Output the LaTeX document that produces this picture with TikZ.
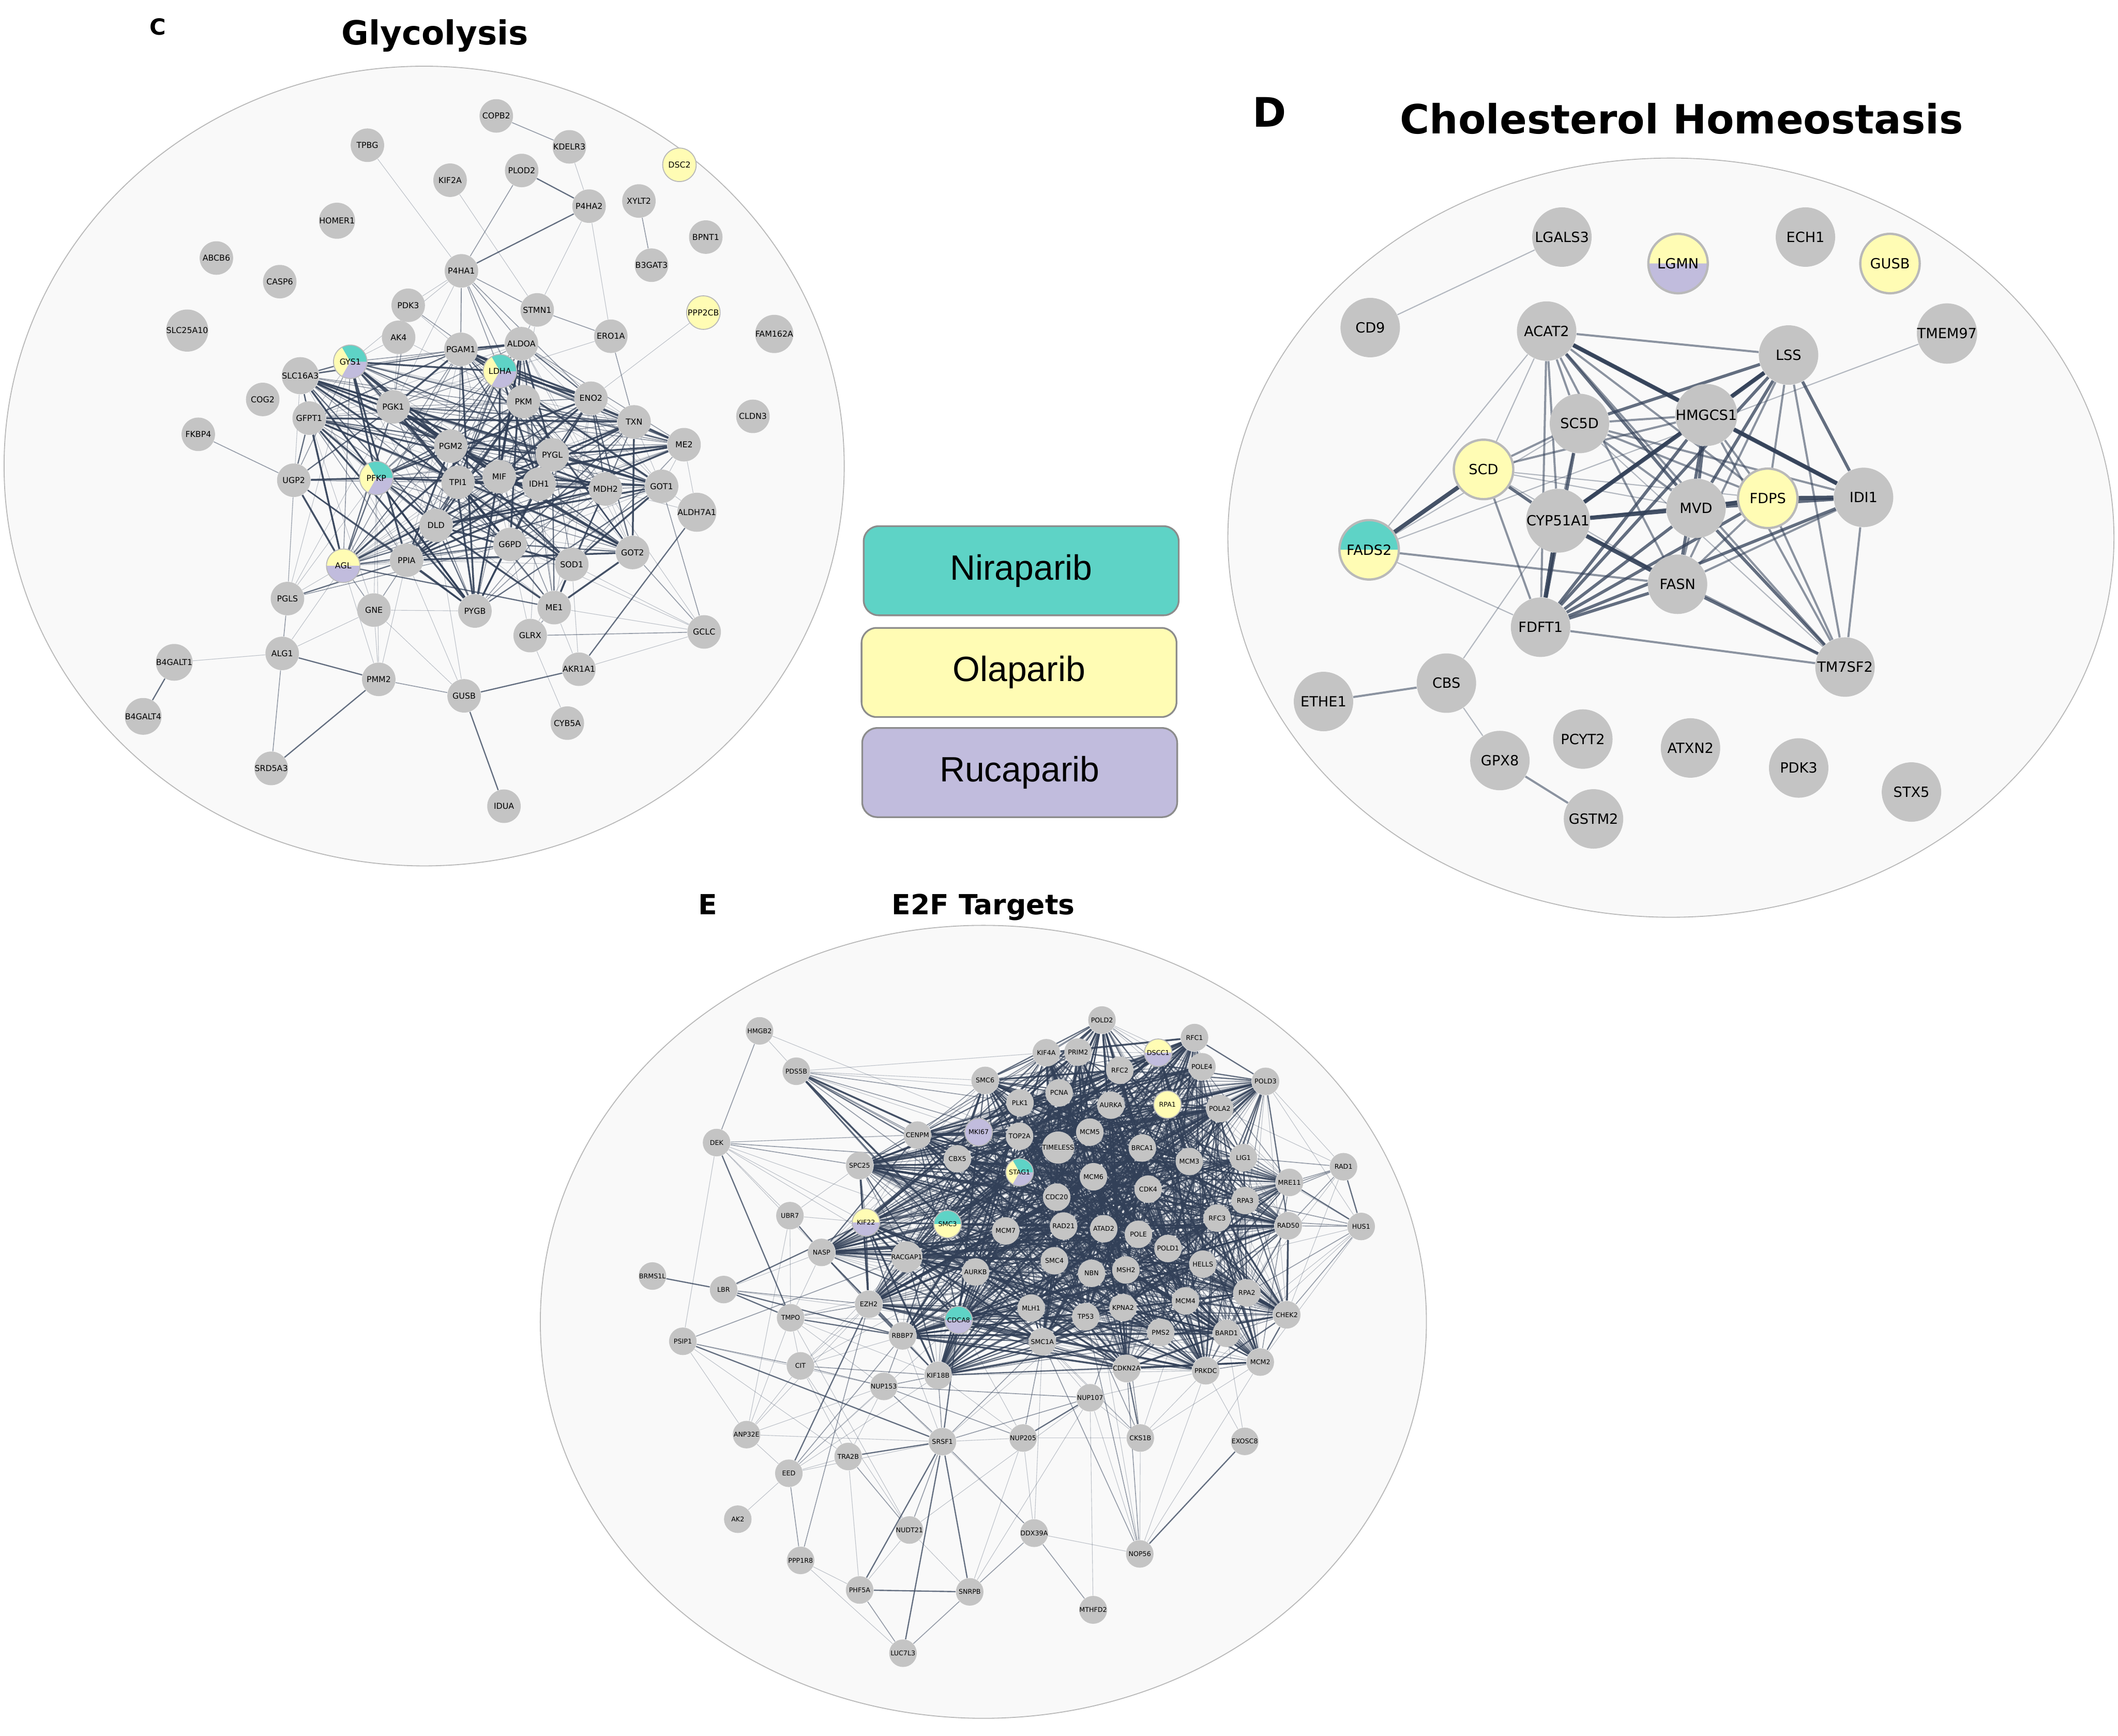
\documentclass[tikz,border=0pt]{standalone}
\usepackage{fontspec}
\setmainfont{DejaVu Sans}
\newfontfamily\keyfont{Liberation Sans}
\usepackage{tikz}
\definecolor{nira}{RGB}{94,211,198}
\definecolor{olap}{RGB}{255,252,180}
\definecolor{ruca}{RGB}{193,188,221}
\definecolor{gnode}{RGB}{196,196,196}
\definecolor{edgec}{RGB}{50,64,88}
\definecolor{ring}{RGB}{185,185,185}
\definecolor{panelbg}{RGB}{249,249,249}
\definecolor{keyedge}{RGB}{140,140,140}
\pgfdeclarelayer{bg}
\pgfdeclarelayer{edges}
\pgfsetlayers{bg,edges,main}
% one slice of a pie node
\newcommand{\piecut}[3]{\fill[#1] (path picture bounding box.center) -- ++(#2:1cm) arc[start angle=#2,end angle=#3,radius=1cm] -- cycle;}
% pick a weight for a link of the dense core
\newcommand{\hashlink}[3]{\ifcase#1\or\or\or\or\draw[ea] (#2)--(#3);\or\draw[ea] (#2)--(#3);\or\draw[eb] (#2)--(#3);\or\draw[eb] (#2)--(#3);\or\draw[ec] (#2)--(#3);\or\draw[ec] (#2)--(#3);\else\draw[ed] (#2)--(#3);\fi}
\def\ccore{GYS1,SLC16A3,PGK1,PGAM1,LDHA,ALDOA,PKM,ENO2,TXN,ME2,PGM2,PFKP,TPI1,MIF,IDH1,PYGL,MDH2,GOT1,DLD,G6PD,GOT2,SOD1,AGL,PPIA,PYGB,ME1,GFPT1}
\def\ecore{SMC6,KIF4A,PRIM2,POLD2,RFC2,DSCC1,RFC1,POLE4,POLD3,PCNA,PLK1,AURKA,RPA1,POLA2,CENPM,MKI67,TOP2A,MCM5,TIMELESS,BRCA1,MCM3,LIG1,SPC25,CBX5,STAG1,MCM6,CDK4,CDC20,MRE11,RPA3,RFC3,RAD50,KIF22,SMC3,MCM7,RAD21,ATAD2,POLE,POLD1,HELLS,NASP,RACGAP1,AURKB,SMC4,NBN,MSH2,RPA2,EZH2,CDCA8,MLH1,TP53,KPNA2,MCM4,BARD1,PMS2,RBBP7,SMC1A,CDKN2A,MCM2,PRKDC,CHEK2,KIF18B}

\begin{document}
\begin{tikzpicture}[x=0.25mm,y=-0.25mm,
  cn/.style={circle,fill=gnode,inner sep=0pt,minimum size=6.2mm,font=\fontsize{4.3}{5}\selectfont},
  dn/.style={circle,fill=gnode,inner sep=0pt,minimum size=11mm,font=\fontsize{7.4}{9}\selectfont},
  en/.style={circle,fill=gnode,inner sep=0pt,minimum size=5.1mm,font=\fontsize{3.45}{4}\selectfont},
  tri/.style={draw=ring,line width=0.5pt,path picture={\piecut{nira}{0}{120}\piecut{olap}{120}{240}\piecut{ruca}{240}{360}}},
  yp/.style={draw=ring,line width=0.5pt,path picture={\piecut{olap}{0}{180}\piecut{ruca}{180}{360}}},
  ty/.style={draw=ring,line width=0.5pt,path picture={\piecut{nira}{0}{180}\piecut{olap}{180}{360}}},
  tp/.style={draw=ring,line width=0.5pt,path picture={\piecut{nira}{0}{180}\piecut{ruca}{180}{360}}},
  oo/.style={draw=ring,line width=0.5pt,fill=olap},
  rr/.style={draw=ring,line width=0.5pt,fill=ruca},
  ea/.style={draw=edgec,draw opacity=.3,line width=.3pt},
  eb/.style={draw=edgec,draw opacity=.5,line width=.45pt},
  ec/.style={draw=edgec,draw opacity=.75,line width=.65pt},
  ed/.style={draw=edgec,draw opacity=.9,line width=.95pt},
  da/.style={draw=edgec,draw opacity=.35,line width=.6pt},
  db/.style={draw=edgec,draw opacity=.55,line width=1.1pt},
  dc/.style={draw=edgec,draw opacity=.75,line width=1.6pt},
  dd/.style={draw=edgec,draw opacity=.9,line width=2.2pt},
  panel/.style={fill=panelbg,draw=ring,line width=.5pt},
  ttl/.style={font=\bfseries\fontsize{#1}{#1}\selectfont,inner sep=0pt,anchor=base},
  keybox/.style={rounded corners=2.8mm,draw=keyedge,line width=.9pt,minimum width=58.3mm,minimum height=16.5mm,font=\keyfont\fontsize{18.5}{20}\selectfont}]

\begin{pgfonlayer}{bg}
\fill[white] (0,0) rectangle (1568,1285);
\draw[panel] (314,345) ellipse [x radius=311,y radius=296];
\draw[panel] (1237,398) ellipse [x radius=328,y radius=281];
\draw[panel] (728,978.5) ellipse [x radius=328,y radius=293.5];
\end{pgfonlayer}
\useasboundingbox (0,0) rectangle (1568,1285);

% titles
\node[ttl=11.7] (lblC) at (117,26) {C};
\node[ttl=17.5] (ttlC) at (322,33) {Glycolysis};
\node[ttl=21.4] (lblD) at (940,94) {D};
\node[ttl=21.2] (ttlD) at (1245,99) {Cholesterol Homeostasis};
\node[ttl=14.6] (lblE) at (524,677) {E};
\node[ttl=14.6] (ttlE) at (728,677) {E2F Targets};

% legend
\foreach \n/\c/\x/\y in {Niraparib/nira/756/422.5,Olaparib/olap/754.4/497.8,Rucaparib/ruca/754.9/571.9}
  \node[keybox,fill=\c] (key\n) at (\x,\y) {\n};

% C: glycolysis
\foreach \n/\x/\y in {TPBG/272/107.5,KIF2A/333.2/133.4,HOMER1/249.5/163.4,ABCB6/160.2/191,P4HA1/341.6/200.5,CASP6/207.1/208.5,PDK3/302.2/226,SLC25A10/138.6/244.7,AK4/295.1/249.7,PGAM1/341.2/258.6,SLC16A3/222.3/278.1,COG2/194.5/295.7,PGK1/291.1/301.2,GFPT1/228.9/309.5,COPB2/367.4/85.8,KDELR3/421.5/108.7,PLOD2/386.2/126.2,P4HA2/436.1/152.6,XYLT2/473/148.8,BPNT1/522.5/175.5,B3GAT3/482.3/196.3,STMN1/397.7/229.4,FAM162A/573.2/247.2,ERO1A/452.2/248.9,ALDOA/386/254.4,PKM/387.5/297.3,ENO2/437.5/294.8,TXN/469.4/312.3,CLDN3/557.4/308.2,FKBP4/146.8/321.5,PGM2/333.7/330.2,UGP2/217.5/355.5,TPI1/339.1/357,DLD/322.8/389,PPIA/301/414.7,PGLS/212.8/443.1,GNE/276.8/451.6,PYGB/351.6/452.3,ALG1/208.9/483.7,B4GALT1/129/490.3,PMM2/280.4/502.9,GUSB/343.6/515.1,B4GALT4/106/530.3,SRD5A3/200.8/568.8,ME2/506.4/329.2,PYGL/408.9/336.7,MIF/369.6/352.9,IDH1/399.1/358.4,MDH2/448.3/362,GOT1/489.8/360,ALDH7A1/515.9/379.2,G6PD/377.6/403,GOT2/468.3/409,SOD1/423.3/417.8,ME1/410.3/449.8,GCLC/521.3/467.8,GLRX/392.5/470.5,AKR1A1/428.6/495.4,CYB5A/420/535.3,IDUA/373.1/596.8}
  \node[cn] (c\n) at (\x,\y) {\n};
\node[cn,tri] (cGYS1) at (259.3,267.8) {GYS1};
\node[cn,tri] (cLDHA) at (370.1,274.8) {LDHA};
\node[cn,tri] (cPFKP) at (278.6,353.9) {PFKP};
\node[cn,yp] (cAGL) at (254.1,418.8) {AGL};
\node[cn,oo] (cDSC2) at (503,122) {DSC2};
\node[cn,oo] (cPPP2CB) at (520.7,231.4) {PPP2CB};

% D: cholesterol homeostasis
\foreach \n/\x/\y in {LGALS3/1156.3/175.5,ECH1/1336.6/175.5,CD9/1014.4/242.5,ACAT2/1145/245.1,TMEM97/1441.4/246.9,LSS/1324.1/262.8,HMGCS1/1263.2/307.2,SC5D/1169.3/313.5,IDI1/1379.6/368.2,MVD/1255.6/376.3,CYP51A1/1153.4/385.5,FASN/1241.9/432.5,FDFT1/1140.5/464.3,TM7SF2/1365.9/493.8,CBS/1070.8/505.7,ETHE1/979.8/519.3,PCYT2/1171.8/547.1,ATXN2/1251.5/553.7,GPX8/1110.4/563,PDK3/1331.6/568.5,STX5/1415.1/586.3,GSTM2/1179.7/606.2}
  \node[dn] (d\n) at (\x,\y) {\n};
\node[dn,yp,line width=1.2pt] (dLGMN) at (1242.3,195.1) {LGMN};
\node[dn,oo,line width=1.2pt] (dGUSB) at (1399.2,195.1) {GUSB};
\node[dn,oo,line width=1.2pt] (dSCD) at (1098.3,347.5) {SCD};
\node[dn,oo,line width=1.2pt] (dFDPS) at (1308.7,368.9) {FDPS};
\node[dn,ty,line width=1.2pt] (dFADS2) at (1013.6,407) {FADS2};

% E: E2F targets
\foreach \n/\x/\y in {HMGB2/562.3/763.1,PDS5B/589.5/793,DEK/530.5/845.8,CENPM/679.2/840.3,SPC25/636.4/862.8,UBR7/584.8/899.9,NASP/608.2/927.1,RACGAP1/671.3/930.4,BRMS1L/483/944.6,LBR/535.7/954.6,EZH2/643.1/965.5,TMPO/585.3/975.5,RBBP7/668.2/988.9,POLD2/815.8/755.1,RFC1/884.3/768.1,KIF4A/774.6/779.3,PRIM2/798.1/778.8,RFC2/829/792.3,POLE4/889.8/789.7,SMC6/729.3/799.8,PCNA/784.1/809,PLK1/755.1/816.4,AURKA/822.4/818.1,POLA2/903/820.6,TOP2A/754.8/841.1,MCM5/806.8/838.1,TIMELESS/783.4/849.5,BRCA1/845.7/849.8,CBX5/708.8/857.8,MCM3/880.5/859.8,MCM6/809.5/871.1,CDK4/850/880.3,CDC20/782.3/886.2,RFC3/901.1/901.7,MCM7/744.5/911.2,RAD21/787.4/907.6,ATAD2/817.1/909.6,POLE/842.8/913.7,POLD1/864.7/924.2,SMC4/780.6/933.3,HELLS/890.5/935.8,AURKB/722.2/941.6,NBN/808.1/942.6,MSH2/833.5/940.1,MCM4/877.6/963,MLH1/763.4/968.3,KPNA2/831.4/968,TP53/803.8/974.7,PMS2/859.3/986.4,BARD1/908/987,POLD3/936.9/800.5,LIG1/920.5/857,RAD1/994.6/863.7,MRE11/954.6/875.3,RPA3/921.8/888.7,RAD50/953.7/907.4,HUS1/1007.7/907.9,RPA2/923.1/957.1,CHEK2/952.6/973.3,MCM2/933/1008.3,EXOSC8/921.5/1067,PSIP1/505.5/992.9,CIT/592.6/1011.1,KIF18B/694.5/1018.1,NUP153/654.3/1026.3,ANP32E/552.7/1062,SRSF1/697.7/1067.2,TRA2B/627.9/1078.2,EED/584/1090.6,AK2/546.2/1124.6,NUDT21/673.3/1132.6,PPP1R8/592.7/1155.1,PHF5A/636.4/1177,LUC7L3/668.5/1223.8,SMC1A/771.7/993.3,CDKN2A/834.1/1013,PRKDC/892.6/1014.7,NUP107/807/1034.7,NUP205/757.4/1064.5,CKS1B/844.2/1064.5,DDX39A/765.6/1134.9,NOP56/843.8/1150.3,SNRPB/717.9/1178.4,MTHFD2/809.3/1191.7}
  \node[en] (e\n) at (\x,\y) {\n};
\node[en,yp] (eDSCC1) at (857.4,779.3) {DSCC1};
\node[en,rr] (eMKI67) at (724.5,838.1) {MKI67};
\node[en,oo] (eRPA1) at (864.3,817.7) {RPA1};
\node[en,tri] (eSTAG1) at (754.8,867.8) {STAG1};
\node[en,yp] (eKIF22) at (641.1,904.9) {KIF22};
\node[en,ty] (eSMC3) at (701.5,906.2) {SMC3};
\node[en,tp] (eCDCA8) at (709.7,977.2) {CDCA8};

\begin{pgfonlayer}{edges}
\pgfmathsetseed{4}
% C links
\foreach \a [count=\i] in \ccore {\foreach \b [count=\j] in \ccore {\ifnum\j>\i
  \pgfmathtruncatemacro\k{min(int(rnd*11)+1,10)}\hashlink{\k}{c\a}{c\b}\fi}}
\foreach \a/\b/\s in {TPBG/P4HA1/ea,KIF2A/STMN1/ea,COPB2/KDELR3/eb,PLOD2/P4HA2/ec,PLOD2/P4HA1/eb,P4HA2/P4HA1/ec,KDELR3/P4HA2/ea,P4HA2/STMN1/ea,P4HA2/ERO1A/ea,XYLT2/B3GAT3/eb,STMN1/ERO1A/eb,ERO1A/TXN/eb,ERO1A/LDHA/ea,PPP2CB/ENO2/ea,P4HA1/PDK3/ea,P4HA1/PGAM1/eb,P4HA1/LDHA/eb,P4HA1/PKM/eb,P4HA1/ENO2/eb,P4HA1/STMN1/eb,P4HA1/GYS1/ea,P4HA1/PGK1/ea,P4HA1/ALDOA/eb,P4HA1/TPI1/ea,PDK3/AK4/ea,PDK3/LDHA/eb,PDK3/PKM/ea,PDK3/PGK1/eb,AK4/GYS1/ea,AK4/PGK1/ea,AK4/PKM/ea,STMN1/ALDOA/ea,STMN1/PKM/ea,STMN1/TPI1/ea,FKBP4/UGP2/eb,UGP2/PFKP/ed,UGP2/GYS1/eb,UGP2/PGLS/ea,UGP2/AGL/ed,UGP2/PPIA/ec,UGP2/PGK1/ec,UGP2/PYGB/ec,UGP2/TPI1/eb,GFPT1/UGP2/ec,GFPT1/GNE/ea,ALG1/PGLS/eb,ALG1/B4GALT1/ea,ALG1/PMM2/ec,ALG1/SRD5A3/eb,ALG1/GNE/ea,ALG1/AGL/ea,B4GALT1/B4GALT4/ec,PMM2/SRD5A3/ec,PMM2/GUSB/eb,PMM2/GNE/ea,PMM2/AGL/ea,PMM2/PPIA/ea,PMM2/PFKP/ea,GUSB/IDUA/ec,GUSB/AKR1A1/ec,GUSB/GNE/ea,GUSB/PPIA/ea,GUSB/DLD/ea,PGLS/AGL/ea,PGLS/PFKP/ea,PGLS/PPIA/ec,PGLS/G6PD/eb,PGLS/PGK1/ea,PGLS/GYS1/ea,PGLS/SLC16A3/ea,GNE/PYGB/ea,GNE/PFKP/ea,GNE/AGL/eb,GNE/PPIA/eb,GLRX/GCLC/eb,GLRX/CYB5A/ea,GLRX/ME1/eb,GLRX/G6PD/ea,GLRX/SOD1/ea,GLRX/IDH1/ea,AKR1A1/ALDH7A1/ec,AKR1A1/GCLC/ea,AKR1A1/ME1/ea,AKR1A1/SOD1/ea,GCLC/GOT2/eb,GCLC/GOT1/eb,GCLC/ME1/ea,GCLC/SOD1/ea,GCLC/G6PD/ea,GCLC/MDH2/ea,ALDH7A1/MDH2/ea,ALDH7A1/ME2/ea,ALDH7A1/GOT1/ea}
  \draw[\s] (c\a) -- (c\b);
% D links
\foreach \a/\b/\s in {LGALS3/CD9/da,CBS/ETHE1/db,CBS/GPX8/da,GPX8/GSTM2/db,CBS/CYP51A1/da,TMEM97/FADS2/da,ACAT2/LSS/db,ACAT2/FADS2/da,ACAT2/SCD/da,ACAT2/SC5D/db,ACAT2/CYP51A1/db,ACAT2/FDFT1/db,ACAT2/HMGCS1/dd,ACAT2/MVD/dc,ACAT2/FDPS/db,ACAT2/FASN/db,ACAT2/IDI1/dc,ACAT2/TM7SF2/db,LSS/SC5D/dc,LSS/HMGCS1/dd,LSS/CYP51A1/dc,LSS/MVD/dc,LSS/FDPS/db,LSS/IDI1/dc,LSS/FDFT1/dc,LSS/TM7SF2/db,LSS/FASN/db,HMGCS1/SC5D/db,HMGCS1/MVD/dc,HMGCS1/FDPS/db,HMGCS1/IDI1/dd,HMGCS1/FDFT1/dc,HMGCS1/CYP51A1/dd,HMGCS1/TM7SF2/db,HMGCS1/FASN/dc,HMGCS1/SCD/db,SCD/FADS2/dd,SCD/SC5D/db,SCD/CYP51A1/dc,SCD/FDFT1/db,SCD/FASN/da,SCD/MVD/da,SCD/FDPS/da,FADS2/FASN/db,FADS2/FDFT1/da,FADS2/SC5D/da,MVD/FDPS/dd,MVD/IDI1/dc,MVD/CYP51A1/dd,MVD/FDFT1/dc,MVD/TM7SF2/dc,MVD/FASN/db,FDPS/IDI1/dd,FDPS/FDFT1/dc,FDPS/TM7SF2/db,FDPS/CYP51A1/db,FDPS/FASN/db,IDI1/TM7SF2/db,IDI1/FDFT1/dc,IDI1/FASN/db,CYP51A1/FDFT1/dd,CYP51A1/FASN/dd,CYP51A1/TM7SF2/db,CYP51A1/SC5D/db,FDFT1/TM7SF2/db,FDFT1/FASN/dc,FASN/TM7SF2/dc,SC5D/FDFT1/dc,SC5D/MVD/db,SC5D/FDPS/db,SC5D/IDI1/db,SC5D/TM7SF2/da}
  \draw[\s] (d\a) -- (d\b);
% E links
\foreach \a [count=\i] in \ecore {\foreach \b [count=\j] in \ecore {\ifnum\j>\i
  \pgfmathtruncatemacro\k{int(rnd*11)}\hashlink{\k}{e\a}{e\b}\fi}}
\foreach \a/\b/\s in {HMGB2/DEK/eb,HMGB2/PDS5B/ea,HMGB2/TOP2A/ea,PDS5B/CENPM/eb,PDS5B/SMC3/ed,PDS5B/STAG1/ed,PDS5B/RAD21/ec,PDS5B/SMC1A/ec,PDS5B/CBX5/eb,PDS5B/TOP2A/eb,PDS5B/SMC6/ea,PDS5B/PLK1/eb,PDS5B/MKI67/ea,PDS5B/SMC4/eb,PDS5B/AURKB/eb,PDS5B/KIF4A/ea,PDS5B/PCNA/ea,DEK/CENPM/ea,DEK/SPC25/eb,DEK/NASP/ea,DEK/UBR7/ea,DEK/TMPO/ec,DEK/PSIP1/ea,DEK/KIF22/ea,DEK/RACGAP1/ea,DEK/SMC3/ea,DEK/CBX5/eb,DEK/MKI67/ea,UBR7/NASP/ec,UBR7/TMPO/ea,UBR7/KIF22/ea,UBR7/SPC25/ea,UBR7/ANP32E/ea,BRMS1L/LBR/ec,LBR/KIF22/ec,LBR/TMPO/ec,LBR/EZH2/eb,LBR/RBBP7/ec,LBR/CDCA8/ea,LBR/NASP/ea,PSIP1/RACGAP1/eb,PSIP1/CIT/eb,PSIP1/SRSF1/ec,PSIP1/ANP32E/ea,PSIP1/TRA2B/ea,PSIP1/NUP153/ea,TMPO/EZH2/eb,TMPO/RBBP7/ec,TMPO/CIT/ea,TMPO/NUP153/ea,TMPO/ANP32E/ea,TMPO/KIF18B/ea,TMPO/NASP/ea,TMPO/CDCA8/ea,TMPO/AURKB/ea,CIT/NUP153/eb,CIT/KIF18B/eb,CIT/RACGAP1/ea,CIT/AURKB/ea,CIT/ANP32E/ea,CIT/NUDT21/ea,CIT/EZH2/ea,CIT/CDCA8/ea,ANP32E/SRSF1/ea,ANP32E/EED/ea,ANP32E/EZH2/ea,ANP32E/NUP153/ea,EED/AK2/ea,EED/PPP1R8/eb,EED/EZH2/ec,EED/RBBP7/eb,EED/NUP153/ea,EED/TRA2B/ea,EED/KIF18B/ea,EED/SRSF1/ea,EED/CDCA8/ea,TRA2B/SRSF1/ec,TRA2B/PHF5A/ea,TRA2B/NUDT21/eb,TRA2B/CIT/ea,TRA2B/NUP153/ea,PPP1R8/PHF5A/ea,PPP1R8/LUC7L3/ea,PPP1R8/EZH2/eb,PHF5A/SNRPB/ec,PHF5A/LUC7L3/eb,PHF5A/SRSF1/ec,PHF5A/NUDT21/ea,LUC7L3/SRSF1/ec,LUC7L3/SNRPB/eb,NUDT21/SRSF1/eb,NUDT21/SNRPB/ea,NUDT21/TMPO/ea,NUDT21/NUP107/ea,SRSF1/SNRPB/ec,SRSF1/NUP153/eb,SRSF1/NUP205/ea,SRSF1/KIF18B/eb,SRSF1/CDCA8/ec,SRSF1/SMC1A/eb,SRSF1/NUP107/eb,SRSF1/DDX39A/eb,SRSF1/TP53/ea,SRSF1/RBBP7/ea,DDX39A/NOP56/ea,DDX39A/MTHFD2/eb,DDX39A/SNRPB/eb,DDX39A/NUP205/ea,DDX39A/SMC1A/ea,DDX39A/NUP153/ea,SNRPB/NUP205/ea,SNRPB/NUP107/ea,MTHFD2/NUP107/ea,NOP56/EXOSC8/ec,NOP56/CDKN2A/eb,NOP56/PRKDC/ea,NOP56/MCM2/ea,NOP56/NUP107/ea,NOP56/SMC1A/eb,NOP56/CKS1B/ea,NOP56/TP53/eb,NOP56/NBN/ea,EXOSC8/PRKDC/ea,EXOSC8/BARD1/ea,CKS1B/NUP205/ea,CKS1B/CDKN2A/ec,CKS1B/TP53/eb,CKS1B/SMC1A/ea,CKS1B/MCM4/ea,CKS1B/MCM2/ea,CKS1B/PRKDC/ea,CKS1B/KPNA2/eb,CKS1B/AURKB/ea,CKS1B/NUP107/ea,NUP205/NUP107/ec,NUP205/SMC1A/eb,NUP205/CDCA8/ea,NUP205/NUP153/eb,NUP205/KIF18B/ea,NUP107/NUP153/eb,NUP107/PRKDC/ea,NUP107/SMC1A/ea,NUP107/KPNA2/eb,NUP153/KIF18B/eb,NUP153/RBBP7/eb,RAD1/HUS1/ec,RAD1/MRE11/eb,RAD1/POLD3/ea,RAD1/LIG1/eb,RAD1/CHEK2/ea,RAD1/RAD50/eb,RAD1/RPA2/ea,RAD1/RPA3/eb,RAD1/POLA2/ea,RAD1/RFC3/eb,HUS1/MRE11/ec,HUS1/RAD50/eb,HUS1/CHEK2/eb,HUS1/RPA2/eb,HUS1/RPA3/eb,HUS1/POLD3/ea,HUS1/MCM2/ea,HUS1/RFC3/eb,HUS1/BARD1/ea,HUS1/LIG1/ea,HUS1/PRKDC/ea,HUS1/HELLS/ea}
  \draw[\s] (e\a) -- (e\b);
\end{pgfonlayer}
\end{tikzpicture}
\end{document}
